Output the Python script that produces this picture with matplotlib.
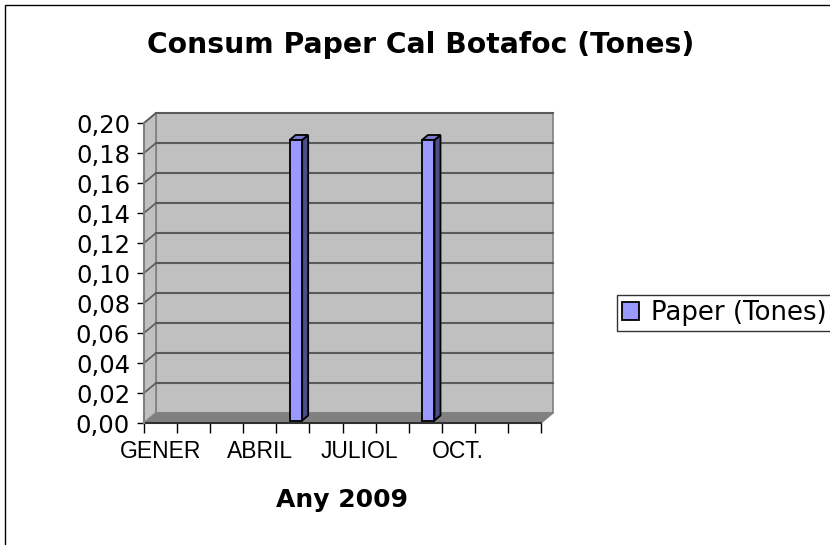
import matplotlib
matplotlib.use("Agg")
import matplotlib.pyplot as plt
from matplotlib.patches import Polygon, Rectangle, Patch
from matplotlib.ticker import FuncFormatter, FixedLocator

# data
months = ["GENER", "FEBRER", "MARÇ", "ABRIL", "MAIG", "JUNY",
          "JULIOL", "AGOST", "SETEMBRE", "OCT.", "NOV.", "DES."]
paper = [0, 0, 0, 0, 0.187, 0, 0, 0, 0.187, 0, 0, 0]
series_name = "Paper (Tones)"
title = "Consum Paper Cal Botafoc (Tones)"
xlabel = "Any 2009"

W, H = 830, 545
fig = plt.figure(figsize=(W / 100, H / 100), dpi=100)

# front plane of the 3d box, in pixels
left, right, top, bottom = 144, 541, 123, 423
ax = fig.add_axes([left / W, 1 - bottom / H, (right - left) / W, (bottom - top) / H])
ax.set_xlim(0, 12)
ax.set_ylim(0, 0.2)
ax.patch.set_visible(False)

# depth offset of the back wall (pixels -> data units)
px_x = 12 / (right - left)
px_y = 0.2 / (bottom - top)
DX = 12 * px_x
DY = 10 * px_y

wall = "#c0c0c0"
grid = "#5a5a5a"
edge = "#808080"

# back wall
ax.add_patch(Polygon([(DX, DY), (12 + DX, DY), (12 + DX, 0.2 + DY), (DX, 0.2 + DY)],
                     closed=True, fc=wall, ec=edge, lw=1.2, clip_on=False, zorder=0))
# side wall
ax.add_patch(Polygon([(0, 0), (DX, DY), (DX, 0.2 + DY), (0, 0.2)],
                     closed=True, fc=wall, ec=edge, lw=1.2, clip_on=False, zorder=0.5))
# gridlines
yt = [i * 0.02 for i in range(11)]
for v in yt[1:]:
    ax.plot([DX, 12 + DX], [v + DY, v + DY], color=grid, lw=1.5, clip_on=False, zorder=1)
    ax.plot([0, DX], [v, v + DY], color=grid, lw=1.2, clip_on=False, zorder=1)
# floor
ax.add_patch(Polygon([(0, 0), (12, 0), (12 + DX, DY), (DX, DY)],
                     closed=True, fc="#808080", ec="#808080", lw=1, clip_on=False, zorder=1.5))
ax.plot([0, 12], [0, 0], color="#303030", lw=1.5, clip_on=False, zorder=1.6)

# bars
bw = 0.38
f0, f1 = 0.25, 0.75
bx = [i + 0.5 - bw / 2 + f0 * DX for i, v in enumerate(paper) if v > 0]
bv = [v for v in paper if v > 0]
ax.bar(bx, bv, width=bw, bottom=f0 * DY, align="edge", color="#9999ff",
       edgecolor="black", linewidth=1.3, zorder=3, clip_on=False)
ddx = (f1 - f0) * DX
ddy = (f1 - f0) * DY
for x0, v in zip(bx, bv):
    y0 = f0 * DY
    side = [(x0 + bw, y0), (x0 + bw + ddx, y0 + ddy),
            (x0 + bw + ddx, y0 + v + ddy), (x0 + bw, y0 + v)]
    topf = [(x0, y0 + v), (x0 + bw, y0 + v),
            (x0 + bw + ddx, y0 + v + ddy), (x0 + ddx, y0 + v + ddy)]
    ax.add_patch(Polygon(side, closed=True, fc="#4d4d8c", ec="black", lw=1.3, zorder=2.9, clip_on=False))
    ax.add_patch(Polygon(topf, closed=True, fc="#7a7acc", ec="black", lw=1.3, zorder=2.9, clip_on=False))

# axes
for s in ["top", "right", "bottom"]:
    ax.spines[s].set_visible(False)
ax.spines["left"].set_color(edge)
ax.spines["left"].set_linewidth(1.5)
ax.set_yticks(yt)
ax.yaxis.set_major_formatter(FuncFormatter(lambda v, p: f"{v:.2f}".replace(".", ",")))
ax.tick_params(axis="y", length=5, width=1, color="black", pad=5, labelsize=17.5)
for t in ax.get_yticklabels():
    t.set_fontfamily("DejaVu Sans")

ax.set_xticks([i + 0.5 for i in range(0, 12, 3)])
ax.set_xticklabels(months[::3], fontfamily="Liberation Sans", fontsize=16.5)
ax.xaxis.set_minor_locator(FixedLocator(list(range(13))))
ax.tick_params(axis="x", which="major", length=0, pad=12)
ax.tick_params(axis="x", which="minor", length=7, width=1, color="black")

# titles
fig.text(421 / W, 1 - 45 / H, title, ha="center", va="center",
         fontsize=20.3, fontweight="bold", family="DejaVu Sans")
fig.text(342 / W, 1 - 507 / H, xlabel, ha="center", va="baseline",
         fontsize=18, fontweight="bold", family="DejaVu Sans")

# legend
handle = Patch(facecolor="#9999ff", edgecolor="black", linewidth=1.3)
leg = fig.legend([handle], [series_name], loc="upper left",
                 bbox_to_anchor=(617 / W, 1 - 295 / H), frameon=True, fancybox=False,
                 edgecolor="black", fontsize=18.7, handlelength=0.65, handleheight=0.65,
                 handletextpad=0.45, borderpad=0.2, borderaxespad=0)
leg.get_frame().set_linewidth(1)

# outer frame
fig.add_artist(Rectangle((5 / W, -0.1), 1.2, 1.1 - 5.5 / H, transform=fig.transFigure,
                         fill=False, ec="black", lw=1, clip_on=False))

fig.savefig("out.png", dpi=100)
